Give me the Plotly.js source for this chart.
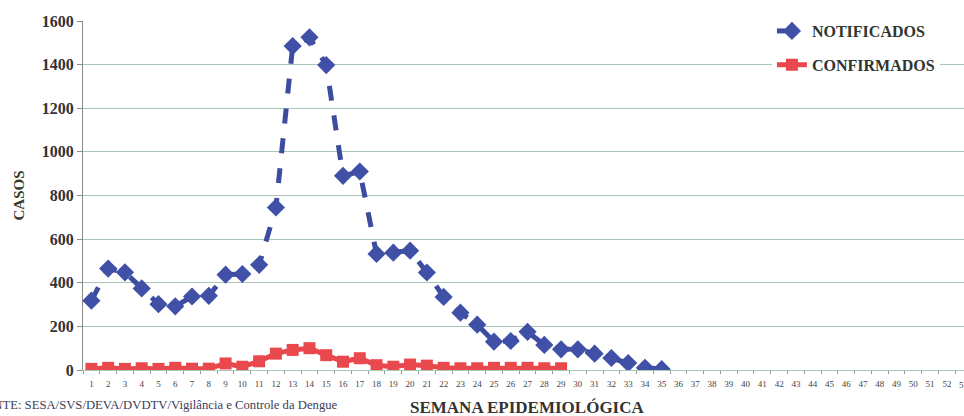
<!DOCTYPE html>
<html>
<head>
<meta charset="utf-8">
<script src="https://cdn.plot.ly/plotly-3.0.1.min.js"></script>
<style>html,body{margin:0;padding:0;background:#fff;}#chart{width:964px;height:416px;}</style>
</head>
<body>
<div id="chart"></div>
<script>
// Semanas epidemiológicas (eixo X)
const weeks = Array.from({length: 53}, (_, i) => i + 1);
const tickLabels = weeks.map(String);

// Semanas com dados
const weeksNotificados = [1,2,3,4,5,6,7,8,9,10,11,12,13,14,15,16,17,18,19,20,21,22,23,24,25,26,27,28,29,30,31,32,33,34,35];
const notificados = [318,465,448,374,302,292,337,340,437,440,482,745,1485,1525,1398,890,910,532,538,547,447,335,263,208,130,133,175,115,95,95,75,55,32,10,4];

const weeksConfirmados = [1,2,3,4,5,6,7,8,9,10,11,12,13,14,15,16,17,18,19,20,21,22,23,24,25,26,27,28,29];
const confirmados = [5,10,5,8,5,10,6,6,30,15,40,75,92,100,68,38,54,22,15,25,20,10,8,8,10,10,10,8,8];

const yTicks = [0,200,400,600,800,1000,1200,1400,1600];

const serif = "Liberation Serif, Times New Roman, serif";

const traces = [
  {
    x: weeksNotificados, y: notificados, name: "NOTIFICADOS", type: "scatter", mode: "lines+markers",
    legendgroup: "a",
    line: {color: "#3c4c9f", width: 5, dash: "dash"},
    marker: {symbol: "diamond", size: 14, color: "#3f50a6", line: {width: 0}}
  },
  {
    x: weeksConfirmados, y: confirmados, name: "CONFIRMADOS", type: "scatter", mode: "lines+markers",
    legendgroup: "b",
    line: {color: "#e8484c", width: 5},
    marker: {symbol: "square", size: 12, color: "#e9484c", line: {width: 0}}
  }
];

const lastWeek = weeks[weeks.length - 1];

const layout = {
  width: 964, height: 416,
  margin: {l: 83, r: 0, t: 21, b: 46},
  paper_bgcolor: "#ffffff", plot_bgcolor: "#ffffff",
  showlegend: true,
  legend: {
    x: 0.782, y: 1.02, xanchor: "left", yanchor: "top",
    bgcolor: "#ffffff", borderwidth: 0,
    font: {family: serif, size: 16, color: "#2f3530", weight: "bold"},
    traceorder: "grouped", tracegroupgap: 10
  },
  xaxis: {
    range: [0.5, 53.02], tickmode: "array", tickvals: weeks.slice(0, -1), ticktext: tickLabels.slice(0, -1),
    showgrid: false, zeroline: false, showline: true, linecolor: "#a8c8b4", linewidth: 1,
    ticks: "", ticklabelstandoff: 5,
    tickfont: {family: serif, size: 9, color: "#444"},
    minor: {tickmode: "linear", tick0: 0.5, dtick: 1, ticks: "outside", ticklen: 3, tickcolor: "#999", showgrid: false}
  },
  yaxis: {
    range: [0, 1600], tickmode: "array", tickvals: yTicks, ticktext: yTicks.map(String),
    showgrid: true, gridcolor: "#a9c4b9", gridwidth: 1,
    zeroline: true, zerolinecolor: "#a8cfae", zerolinewidth: 1,
    showline: true, linecolor: "#8a8a8a", linewidth: 1,
    ticks: "outside", ticklen: 5, tickcolor: "#8a8a8a",
    tickfont: {family: serif, size: 16, color: "#333", weight: "bold"}
  },
  annotations: [
    {text: "CASOS", xref: "paper", yref: "paper", x: (18 - 83) / 881, y: 0.5, textangle: -90,
     xanchor: "center", yanchor: "middle", showarrow: false,
     font: {family: serif, size: 15, color: "#3a3a2c", weight: "bold"}},
    {text: tickLabels[tickLabels.length - 1], xref: "x", yref: "paper", x: lastWeek, y: (370 - 385) / 349,
     xanchor: "center", yanchor: "middle", showarrow: false,
     font: {family: serif, size: 9, color: "#444"}},
    {text: "SEMANA EPIDEMIOLÓGICA", xref: "paper", yref: "paper", x: (527 - 83) / 881, y: (370 - 407) / 349,
     xanchor: "center", yanchor: "middle", showarrow: false,
     font: {family: serif, size: 17, color: "#333", weight: "bold"}},
    {text: "FONTE: SESA/SVS/DEVA/DVDTV/Vigilância e Controle da Dengue", xref: "paper", yref: "paper",
     x: (-25 - 83) / 881, y: (370 - 405) / 349, xanchor: "left", yanchor: "middle", showarrow: false,
     font: {family: serif, size: 12.7, color: "#39405a"}}
  ]
};

Plotly.newPlot("chart", traces, layout, {displayModeBar: false, staticPlot: true});
</script>
</body>
</html>
